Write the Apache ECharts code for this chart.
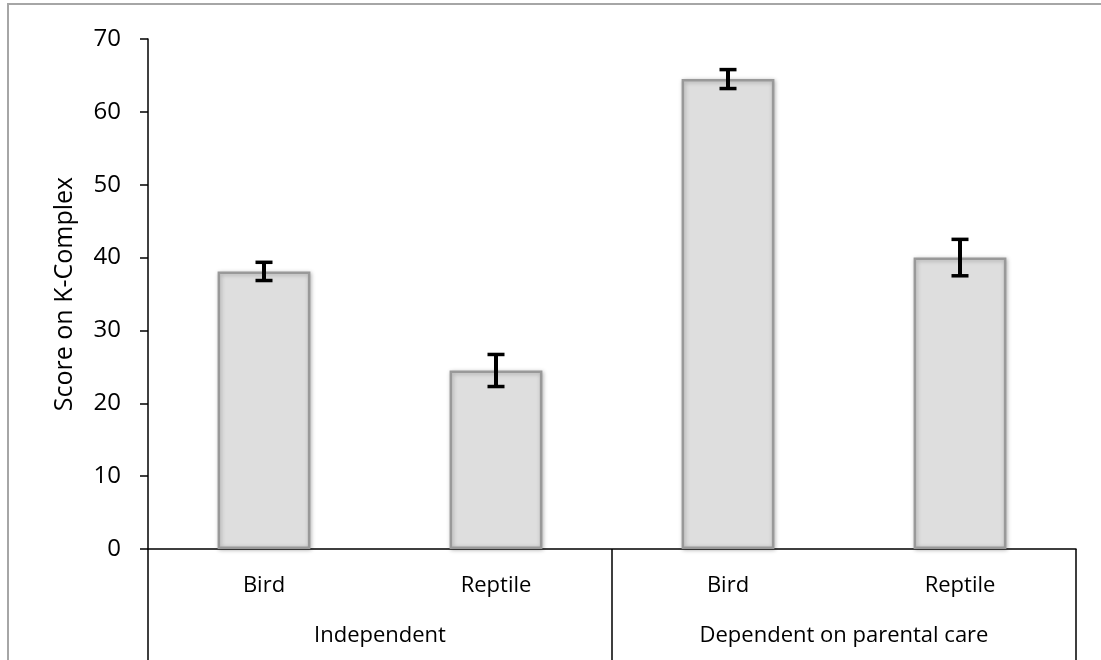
<!DOCTYPE html>
<html>
<head>
<meta charset="utf-8">
<script src="https://cdn.jsdelivr.net/npm/echarts@6/dist/echarts.min.js"></script>
<style>
html,body{margin:0;padding:0;background:#fff;}
#chart{width:1101px;height:660px;}
</style>
</head>
<body>
<div id="chart"></div>
<script>
const categories = ['Bird', 'Reptile', 'Bird', 'Reptile'];
const groups = ['Independent', 'Dependent on parental care'];
const scores = [38.1, 24.5, 64.5, 40.0];
const errors = [1.25, 2.2, 1.3, 2.5];
const yTicks = { min: 0, max: 70, interval: 10 };
const yTitle = 'Score on K-Complex';

const font = '"Open Sans", "Noto Sans", sans-serif';
const chart = echarts.init(document.getElementById('chart'));

const errData = scores.map((v, i) => [i, v - errors[i], v + errors[i]]);

chart.setOption({
  animation: false,
  backgroundColor: '#fff',
  graphic: [{
    type: 'rect', silent: true, z: -10,
    shape: { x: 8, y: 4, width: 1300, height: 900 },
    style: { fill: 'none', stroke: '#a6a6a6', lineWidth: 2 }
  }],
  grid: { left: 148, right: 25, top: 39, bottom: 111, containLabel: false },
  xAxis: [{
    type: 'category', data: categories, position: 'bottom',
    axisLine: { show: true, lineStyle: { color: '#000', width: 1.5 } },
    axisTick: { show: false },
    axisLabel: { margin: 26, fontSize: 22, color: '#000', fontFamily: font }
  }, {
    type: 'category', data: groups, position: 'bottom',
    axisLine: { show: false },
    axisTick: { show: true, length: 112, lineStyle: { color: '#000', width: 1.5 } },
    axisLabel: { margin: 76, fontSize: 22, color: '#000', fontFamily: font }
  }],
  yAxis: {
    type: 'value', min: yTicks.min, max: yTicks.max, interval: yTicks.interval,
    name: yTitle, nameLocation: 'middle', nameGap: 71, nameRotate: 90,
    nameTextStyle: { fontSize: 25, color: '#000', fontFamily: font },
    axisLine: { show: true, lineStyle: { color: '#000', width: 1.5 } },
    axisTick: { show: true, length: 8, lineStyle: { color: '#000', width: 1.5 } },
    axisLabel: { margin: 27, fontSize: 24, color: '#000', fontFamily: font },
    splitLine: { show: false }
  },
  series: [{
    type: 'bar', data: scores, barWidth: '40%', xAxisIndex: 0,
    itemStyle: {
      color: '#dedede', borderColor: '#999', borderWidth: 2.5,
      shadowColor: 'rgba(0,0,0,0.25)', shadowBlur: 4, shadowOffsetX: 1, shadowOffsetY: 1
    }
  }, {
    type: 'custom', xAxisIndex: 0, z: 10, data: errData,
    renderItem: function (params, api) {
      const x = api.value(0);
      const lo = api.coord([x, api.value(1)]);
      const hi = api.coord([x, api.value(2)]);
      const hw = 8.5;
      return {
        type: 'group', children: [
          { type: 'line', shape: { x1: lo[0], y1: lo[1], x2: hi[0], y2: hi[1] }, style: { stroke: '#000', lineWidth: 4 } },
          { type: 'line', shape: { x1: lo[0] - hw, y1: lo[1], x2: lo[0] + hw, y2: lo[1] }, style: { stroke: '#000', lineWidth: 3.5 } },
          { type: 'line', shape: { x1: hi[0] - hw, y1: hi[1], x2: hi[0] + hw, y2: hi[1] }, style: { stroke: '#000', lineWidth: 3.5 } }
        ]
      };
    }
  }]
});
</script>
</body>
</html>
